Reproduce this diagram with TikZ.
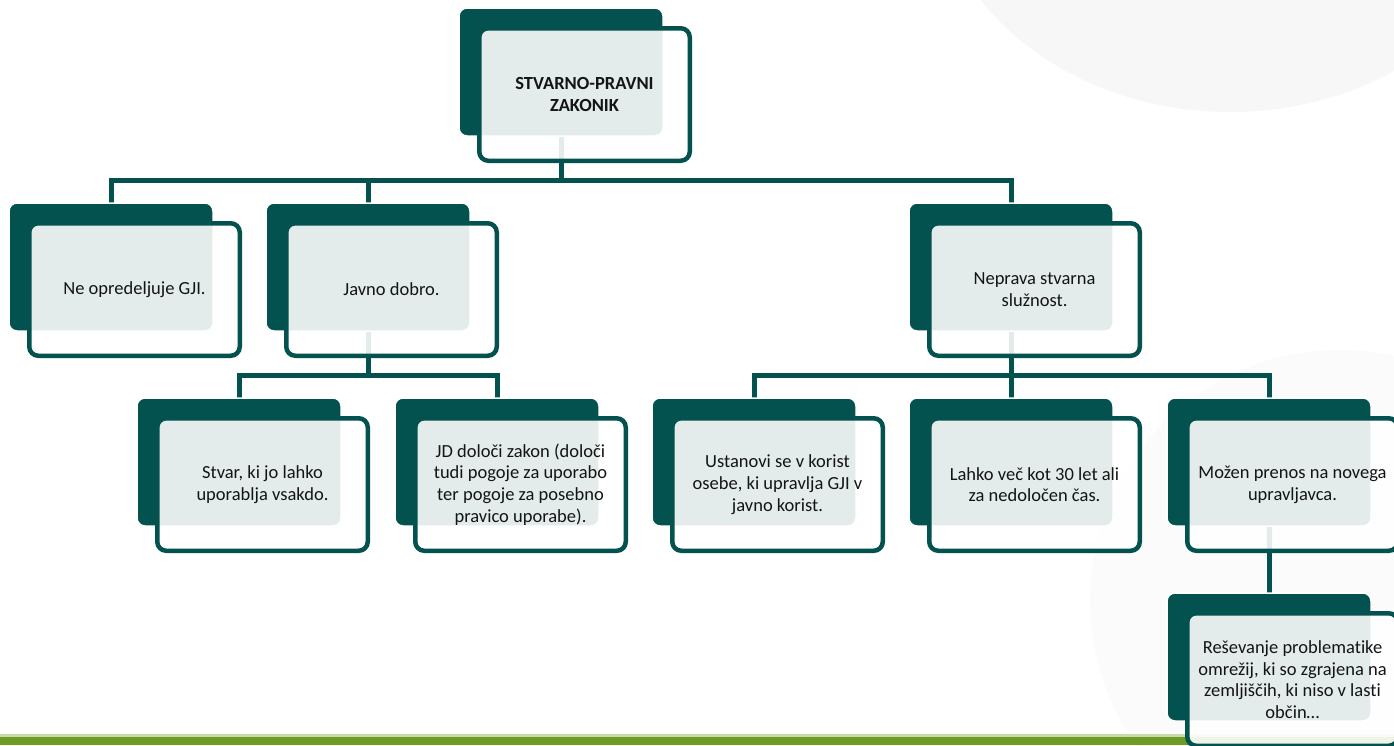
\documentclass[tikz,border=0pt]{standalone}
\usepackage{fontspec}
\setmainfont{Carlito}[Ligatures={NoCommon}]
\definecolor{dteal}{HTML}{03524F}
\definecolor{barg}{HTML}{6F9B24}
\definecolor{barl}{HTML}{C9DAAA}
\definecolor{bgfaint}{HTML}{F7F7F7}
\pgfdeclarelayer{deco}
\pgfdeclarelayer{links}
\pgfsetlayers{deco,links,main}
\tikzset{
  back/.style={draw=white, line width=1.5pt, fill=dteal, rounded corners=8pt,
    minimum width=204pt, minimum height=128pt, anchor=north west, inner sep=0pt, outer sep=0pt},
  front/.style={draw=dteal, line width=4.5pt, fill=white, fill opacity=0.89, text opacity=1,
    rounded corners=9pt, minimum width=210.5pt, minimum height=132.5pt, inner sep=0pt,
    align=center, font=\fontsize{18.5}{21.7}\selectfont, text=black!92},
  link/.style={draw=dteal, line width=5pt},
}
\newcommand\orgbox[4]{%
  \node[back] (#1) at (#2,#3) {};
  \node[front] (#1f) at (#2+125.5,#3+86.5) {#4};
}
\begin{document}
\begin{tikzpicture}[x=1pt,y=-1pt]
\useasboundingbox (0,0) rectangle (1394,745);
\begin{pgfonlayer}{deco}
  \fill[white] (0,0) rectangle (1394,745);
  \fill[bgfaint] (1230,-140) ellipse [x radius=300, y radius=252];
  \fill[bgfaint!50!white] (1340,600) circle [radius=250];
  \fill[barl] (0,734) rectangle (1394,737);
  \fill[barg] (0,737) rectangle (1394,745);
\end{pgfonlayer}

\orgbox{top}{459}{8}{\textbf{STVARNO-PRAVNI}\\\textbf{ZAKONIK}}
\orgbox{ne}{9}{203}{Ne opredeljuje GJI.}
\orgbox{jav}{266}{203}{Javno dobro.}
\orgbox{nep}{909}{203}{Neprava stvarna\\služnost.}
\orgbox{stv}{137}{398}{Stvar, ki jo lahko\\uporablja vsakdo.}
\orgbox{jdz}{395}{398}{JD določi zakon (določi\\tudi pogoje za uporabo\\ter pogoje za posebno\\pravico uporabe).}
\orgbox{ust}{652}{398}{Ustanovi se v korist\\osebe, ki upravlja GJI v\\javno korist.}
\orgbox{lah}{909}{398}{Lahko več kot 30 let ali\\za nedoločen čas.}
\orgbox{moz}{1167}{398}{Možen prenos na novega\\upravljavca.}
\orgbox{res}{1167}{593}{Reševanje problematike\\omrežij, ki so zgrajena na\\zemljiščih, ki niso v lasti\\občin…}

\coordinate (h1) at (0,180);
\coordinate (h2) at (0,375);
\begin{pgfonlayer}{links}
  \draw[link] (top.south) -- (top.south |- h1) -| (ne.north);
  \draw[link] (top.south) -- (top.south |- h1) -| (jav.north);
  \draw[link] (top.south) -- (top.south |- h1) -| (nep.north);
  \draw[link] (jav.south) -- (jav.south |- h2) -| (stv.north);
  \draw[link] (jav.south) -- (jav.south |- h2) -| (jdz.north);
  \draw[link] (nep.south) -- (nep.south |- h2) -| (ust.north);
  \draw[link] (nep.south) -- (nep.south |- h2) -| (lah.north);
  \draw[link] (nep.south) -- (nep.south |- h2) -| (moz.north);
  \draw[link] (moz.south) -- (res.north);
\end{pgfonlayer}
\end{tikzpicture}
\end{document}
